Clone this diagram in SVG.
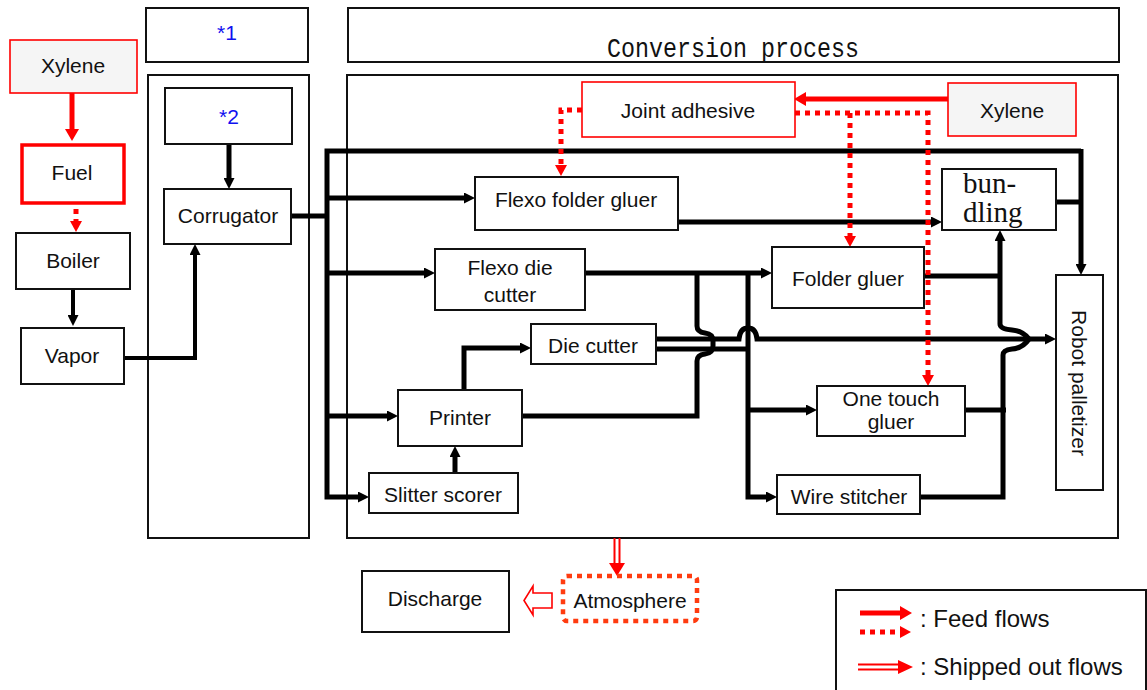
<svg xmlns="http://www.w3.org/2000/svg" width="1147" height="690" viewBox="0 0 1147 690">
<defs>
<style>
.box{fill:#fff;stroke:#111;stroke-width:2}
.rbox{fill:#fff;stroke:#f00;stroke-width:1.6}
.gbox{fill:#f5f5f5;stroke:#f00;stroke-width:1.6}
.t{font-family:"Liberation Sans",Arial,sans-serif;font-size:21px;fill:#111;text-anchor:middle}
.lt{font-family:"Liberation Sans",Arial,sans-serif;font-size:24px;fill:#111}
.blue{fill:#1010f0}
.ln{fill:none;stroke:#000;stroke-width:5;stroke-linejoin:miter}
.ln4{fill:none;stroke:#000;stroke-width:4}
.rl{fill:none;stroke:#f00;stroke-width:5}
.rd{fill:none;stroke:#f00;stroke-width:5;stroke-dasharray:5 5}
</style>
<marker id="ab" markerUnits="userSpaceOnUse" markerWidth="11" markerHeight="11" refX="5" refY="5.5" orient="auto"><path d="M0,0 L11,5.5 L0,11 z" fill="#000"/></marker>
<marker id="ar" markerUnits="userSpaceOnUse" markerWidth="12" markerHeight="14" refX="5" refY="7" orient="auto"><path d="M0,0 L12,7 L0,14 z" fill="#f00"/></marker>
<marker id="ard" markerUnits="userSpaceOnUse" markerWidth="11" markerHeight="12" refX="5" refY="6" orient="auto"><path d="M0,0 L11,6 L0,12 z" fill="#f00"/></marker>
</defs>

<g id="frames">
<rect x="146" y="8" width="162" height="54" class="box"/>
<text x="227" y="40" class="t blue">*1</text>
<rect x="148" y="75" width="161" height="463" class="box"/>
<rect x="348" y="8" width="771" height="54" class="box"/>
<text x="733" y="57" font-family="'Liberation Mono',monospace" font-size="28" text-anchor="middle" textLength="252" lengthAdjust="spacingAndGlyphs" fill="#111">Conversion process</text>
<rect x="347" y="75" width="771" height="463" class="box"/>
</g>

<g id="connectors">
<path d="M72,93 V134" class="rl" stroke-width="4" marker-end="url(#ar)"/>
<path d="M76,209 V226" class="rd" stroke-dasharray="5 30" marker-end="url(#ard)"/>
<path d="M73,289 V320" class="ln4" marker-end="url(#ab)"/>
<path d="M124,358 H195 V250" class="ln4" marker-end="url(#ab)"/>
<path d="M229,144 V183" class="ln" marker-end="url(#ab)"/>
<path d="M291,216 H327" class="ln"/>
<path d="M1081,151 H327 V497 H363" class="ln" marker-end="url(#ab)"/>
<path d="M1081,149 V269" class="ln" marker-end="url(#ab)"/>
<path d="M327,198 H469" class="ln" marker-end="url(#ab)"/>
<path d="M327,273 H429" class="ln" marker-end="url(#ab)"/>
<path d="M327,416 H392" class="ln" marker-end="url(#ab)"/>
<path d="M678,222 H936" class="ln" marker-end="url(#ab)"/>
<path d="M1056,202 H1081" class="ln"/>
<path d="M585,273 H766" class="ln" marker-end="url(#ab)"/>
<path d="M697,273 V326 Q697,332 705,333 Q713,334 713,341 V346 Q713,353 705,354 Q697,355 697,361 V416 H522" class="ln"/>
<path d="M656,339 H739 Q740,328 748,328 Q756,328 757,339 H1050" class="ln" marker-end="url(#ab)"/>
<path d="M656,349 H748" class="ln"/>
<path d="M748,273 V497 H771" class="ln" marker-end="url(#ab)"/>
<path d="M748,410 H811" class="ln" marker-end="url(#ab)"/>
<path d="M924,276 H1000" class="ln"/>
<path d="M910,497 H1003 V355 Q1003,350 1012,349 Q1023,348 1029,339 Q1023,331 1012,330 Q1000,329 1000,324 V236" class="ln" marker-end="url(#ab)"/>
<path d="M965,410 H1006" class="ln"/>
<path d="M464,390 V348 H525" class="ln" marker-end="url(#ab)"/>
<path d="M455,473 V452" class="ln" marker-end="url(#ab)"/>
<path d="M948,99 H801" class="rl" marker-end="url(#ar)"/>
<path d="M795,113 H928 V380" class="rd" marker-end="url(#ard)"/>
<path d="M850,113 V241" class="rd" marker-end="url(#ard)"/>
<path d="M582,110 H561 V170" class="rd" marker-end="url(#ard)"/>
<path d="M614.5,538 V563 M619.5,538 V563" stroke="#f00" stroke-width="2" fill="none"/>
<path d="M609,563 H625 L617,576 z" fill="#f00"/>
<path d="M552,593 H533 V586 L524,600.5 L533,615 V608 H552 z" fill="#fff" stroke="#f00" stroke-width="1.6"/>
</g>

<g id="n-xylene1"><rect x="10" y="40" width="127" height="53" class="gbox"/><text x="73" y="73" class="t">Xylene</text></g>
<g id="n-fuel"><rect x="22" y="145" width="102" height="58" fill="#fff" stroke="#f00" stroke-width="3.5"/><text x="72" y="180" class="t">Fuel</text></g>
<g id="n-boiler"><rect x="16" y="233" width="114" height="56" class="box"/><text x="73" y="268" class="t">Boiler</text></g>
<g id="n-vapor"><rect x="21" y="328" width="103" height="56" class="box"/><text x="72" y="363" class="t">Vapor</text></g>
<g id="n-star2"><rect x="165" y="88" width="127" height="56" class="box"/><text x="229" y="124" class="t blue">*2</text></g>
<g id="n-corrugator"><rect x="164" y="189" width="127" height="55" class="box"/><text x="228" y="223" class="t">Corrugator</text></g>
<g id="n-joint"><rect x="582" y="82" width="213" height="55" class="rbox"/><text x="688" y="118" class="t">Joint adhesive</text></g>
<g id="n-xylene2"><rect x="948" y="83" width="128" height="53" class="gbox"/><text x="1012" y="118" class="t">Xylene</text></g>
<g id="n-ffg"><rect x="475" y="177" width="203" height="53" class="box"/><text x="576" y="207" class="t">Flexo folder gluer</text></g>
<g id="n-bundling"><rect x="942" y="169" width="114" height="61" class="box"/><text x="963" y="193" font-family="'Liberation Serif',serif" font-size="29" fill="#111">bun-</text><text x="963" y="222" font-family="'Liberation Serif',serif" font-size="29" fill="#111">dling</text></g>
<g id="n-fdc"><rect x="435" y="249" width="150" height="61" class="box"/><text x="510" y="275" class="t">Flexo die</text><text x="510" y="302" class="t">cutter</text></g>
<g id="n-folder"><rect x="772" y="247" width="152" height="61" class="box"/><text x="848" y="286" class="t">Folder gluer</text></g>
<g id="n-diecutter"><rect x="531" y="324" width="125" height="40" class="box"/><text x="593" y="353" class="t">Die cutter</text></g>
<g id="n-printer"><rect x="398" y="390" width="124" height="56" class="box"/><text x="460" y="425" class="t">Printer</text></g>
<g id="n-slitter"><rect x="369" y="473" width="149" height="40" class="box"/><text x="443" y="502" class="t">Slitter scorer</text></g>
<g id="n-onetouch"><rect x="817" y="386" width="148" height="50" class="box"/><text x="891" y="406" class="t">One touch</text><text x="891" y="429" class="t">gluer</text></g>
<g id="n-wire"><rect x="777" y="475" width="143" height="39" class="box"/><text x="849" y="504" class="t">Wire stitcher</text></g>
<g id="n-robot"><rect x="1056" y="275" width="47" height="215" class="box"/><text class="t" transform="translate(1072,383) rotate(90)">Robot palletizer</text></g>
<g id="n-atmos"><rect x="563" y="576" width="134" height="45" rx="4" fill="#fff" stroke="#ff3b0f" stroke-width="4.5" stroke-dasharray="5 5"/><text x="630" y="608" class="t">Atmosphere</text></g>
<g id="n-discharge"><rect x="362" y="571" width="147" height="61" class="box"/><text x="435" y="606" class="t">Discharge</text></g>

<g id="legend">
<rect x="836" y="590" width="310" height="110" class="box"/>
<path d="M860,613 H905" class="rl" marker-end="url(#ar)"/>
<path d="M860,632 H905" class="rd" marker-end="url(#ard)"/>
<path d="M858,664.5 H899 M858,669.5 H899" stroke="#f00" stroke-width="2" fill="none"/>
<path d="M898,660 L913,667 L898,674 z" fill="#f00"/>
<text x="920" y="627" class="lt">: Feed flows</text>
<text x="920" y="675" class="lt">: Shipped out flows</text>
</g>
</svg>
